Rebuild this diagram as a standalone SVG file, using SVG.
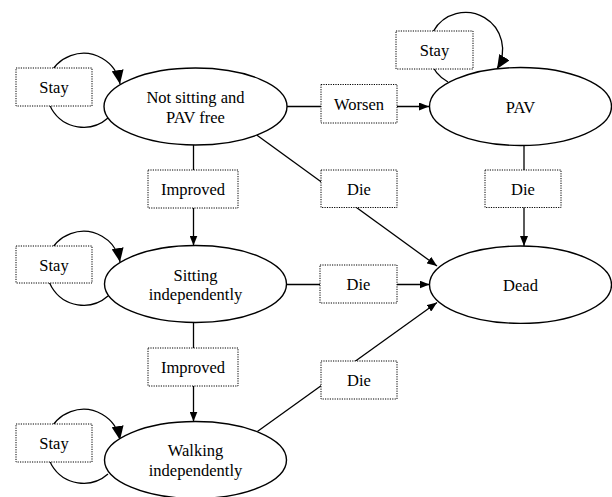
<svg xmlns="http://www.w3.org/2000/svg" width="612" height="497" viewBox="0 0 612 497">
<style>
.st{fill:white;stroke:black;stroke-width:1.4}
.lb{fill:white;stroke:black;stroke-width:1;stroke-dasharray:1.2 1.2}
.ln{fill:none;stroke:black;stroke-width:1.3}
.t{font-family:'Liberation Serif','DejaVu Serif',serif;font-size:16.5px;text-anchor:middle;fill:black}
</style>
<defs>
<marker id="a" markerUnits="userSpaceOnUse" markerWidth="10" markerHeight="8" refX="10" refY="4" orient="auto"><path d="M0,0 L10,4 L0,8 z" fill="black"/></marker>
<marker id="b" markerUnits="userSpaceOnUse" markerWidth="14" markerHeight="12" refX="14" refY="6" orient="auto"><path d="M0,0 L14,6 L0,12 z" fill="black"/></marker>
</defs>
<g id="connectors">
<path class="ln" d="M108,118 A37,37 0 1 1 120,84" marker-end="url(#b)"/>
<path class="ln" d="M108,296 A37,37 0 1 1 120,262" marker-end="url(#b)"/>
<path class="ln" d="M108,474 A37,37 0 1 1 120,440" marker-end="url(#b)"/>
<path class="ln" d="M448,82 A37,37 0 1 1 497,69" marker-end="url(#b)"/>
<line class="ln" x1="287" y1="106.5" x2="429" y2="106.5" marker-end="url(#a)"/>
<line class="ln" x1="524" y1="145.5" x2="524" y2="246" marker-end="url(#a)"/>
<line class="ln" x1="193.5" y1="145" x2="193.5" y2="245.5" marker-end="url(#a)"/>
<line class="ln" x1="193.5" y1="322.5" x2="193.5" y2="421.5" marker-end="url(#a)"/>
<line class="ln" x1="287" y1="284.5" x2="429.5" y2="284.5" marker-end="url(#a)"/>
<line class="ln" x1="256.7" y1="135" x2="437" y2="266" marker-end="url(#a)"/>
<line class="ln" x1="257" y1="431.7" x2="437" y2="302.5" marker-end="url(#a)"/>
</g>
<g id="labels" class="t">
<g id="lbl-stay1"><rect class="lb" x="16" y="68" width="76" height="38"/><text x="54" y="93">Stay</text></g>
<g id="lbl-stay2"><rect class="lb" x="396" y="31" width="77" height="38"/><text x="434.5" y="56">Stay</text></g>
<g id="lbl-stay3"><rect class="lb" x="16" y="246" width="76" height="37"/><text x="54" y="270.5">Stay</text></g>
<g id="lbl-stay4"><rect class="lb" x="16" y="424" width="76" height="38"/><text x="54" y="449">Stay</text></g>
<g id="lbl-worsen"><rect class="lb" x="321" y="84.5" width="76" height="38.5"/><text x="359" y="110">Worsen</text></g>
<g id="lbl-die1"><rect class="lb" x="321" y="170" width="76" height="37.5"/><text x="359" y="195">Die</text></g>
<g id="lbl-die2"><rect class="lb" x="485" y="170" width="76" height="37.5"/><text x="523" y="195">Die</text></g>
<g id="lbl-die3"><rect class="lb" x="320" y="265" width="77" height="38"/><text x="358.5" y="290">Die</text></g>
<g id="lbl-die4"><rect class="lb" x="321" y="361" width="76" height="38"/><text x="359" y="386">Die</text></g>
<g id="lbl-imp1"><rect class="lb" x="148" y="170" width="90" height="38"/><text x="193" y="195">Improved</text></g>
<g id="lbl-imp2"><rect class="lb" x="148" y="348" width="90" height="38"/><text x="193" y="373">Improved</text></g>
</g>
<g class="t">
<g id="node-notsitting"><ellipse class="st" cx="195.5" cy="106.5" rx="91.5" ry="38.5"/><text x="195.5" y="103">Not sitting and</text><text x="195.5" y="122.5">PAV free</text></g>
<g id="node-pav"><ellipse class="st" cx="520.5" cy="106.5" rx="91" ry="39"/><text x="520.5" y="112.5">PAV</text></g>
<g id="node-sitting"><ellipse class="st" cx="195.5" cy="284" rx="91" ry="38.5"/><text x="195.5" y="280.5">Sitting</text><text x="195.5" y="299.5">independently</text></g>
<g id="node-dead"><ellipse class="st" cx="520.5" cy="284.7" rx="91" ry="38.7"/><text x="520.5" y="290.7">Dead</text></g>
<g id="node-walking"><ellipse class="st" cx="195.5" cy="460" rx="91" ry="38.5"/><text x="195.5" y="456">Walking</text><text x="195.5" y="475.5">independently</text></g>
</g>
</svg>
